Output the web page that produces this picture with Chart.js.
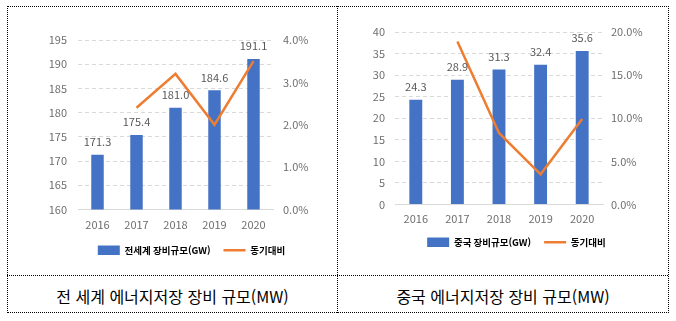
<!DOCTYPE html>
<html lang="ko">
<head>
<meta charset="utf-8">
<script src="https://cdn.jsdelivr.net/npm/chart.js@4/dist/chart.umd.min.js"></script>
<style>
  html, body { margin: 0; padding: 0; background: #fff; }
  #page { position: relative; width: 676px; height: 321px; overflow: hidden; background: #fff; }
  .frame { position: absolute; left: 7px; top: 6px; width: 660px; height: 305px; border: 1px dotted #000; }
  .vline { position: absolute; left: 337px; top: 6px; height: 307px; width: 0; border-left: 1px dotted #000; }
  .hline { position: absolute; left: 7px; top: 275px; width: 661px; height: 0; border-top: 1px dotted #000; }
  .caption { position: absolute; top: 278px; height: 36px; line-height: 36px; text-align: center;
    font-family: "Noto Sans CJK KR", sans-serif; font-size: 16px; color: #000; }
  canvas { position: absolute; }
</style>
</head>
<body>
<div id="page">
  <div class="frame"></div>
  <div class="vline"></div>
  <div class="hline"></div>
  <canvas id="worldChart" width="287" height="258" style="left:48px; top:7px;"></canvas>
  <canvas id="chinaChart" width="293" height="250" style="left:370px; top:7px;"></canvas>
  <div class="caption" style="left:8px; width:329px;">전 세계 에너지저장 장비 규모(MW)</div>
  <div class="caption" style="left:338px; width:330px;">중국 에너지저장 장비 규모(MW)</div>
</div>

<script>
// ================= DATA =================
const years = ["2016", "2017", "2018", "2019", "2020"];

const worldSize = [171.3, 175.4, 181.0, 184.6, 191.1];
const worldYoY = [null, 2.4, 3.2, 2.0, 3.5];

const chinaSize = [24.3, 28.9, 31.3, 32.4, 35.6];
const chinaYoY = [null, 18.9, 8.3, 3.5, 9.9];

// ================= STYLE =================
const BAR_COLOR = "#4472C4";
const LINE_COLOR = "#ED7D31";
const GRID_COLOR = "#d9d9d9";
const TICK_COLOR = "#6e6e6e";

Chart.defaults.font.family = "'Noto Sans CJK KR', sans-serif";
Chart.defaults.animation = false;

// ================= BAR VALUE LABELS =================
const barLabels = {
  id: "barLabels",
  afterDatasetsDraw(chart) {
    const ctx = chart.ctx;
    const meta = chart.getDatasetMeta(0);
    const values = chart.data.datasets[0].data;
    ctx.save();
    ctx.font = "11px 'Noto Sans CJK KR', sans-serif";
    ctx.fillStyle = "#595959";
    ctx.textAlign = "center";
    ctx.textBaseline = "middle";
    meta.data.forEach((bar, i) => {
      ctx.fillText(values[i].toFixed(1), bar.x, bar.y - 13);
    });
    ctx.restore();
  }
};

// ================= BUILD CHART =================
function makeChart(canvasId, opts) {
  const fixWidth = w => scale => { scale.width = w; };

  return new Chart(document.getElementById(canvasId), {
    type: "bar",
    data: {
      labels: years,
      datasets: [
        {
          label: opts.barLabel,
          data: opts.bars,
          backgroundColor: BAR_COLOR,
          borderColor: BAR_COLOR,
          borderWidth: 0,
          barPercentage: opts.barPct,
          categoryPercentage: 1,
          pointStyle: "rect",
          yAxisID: "y",
          order: 1
        },
        {
          type: "line",
          label: "동기대비",
          data: opts.yoy,
          borderColor: LINE_COLOR,
          backgroundColor: LINE_COLOR,
          borderWidth: 2.5,
          pointRadius: 0,
          pointStyle: "line",
          tension: 0,
          yAxisID: "y1",
          order: 0
        }
      ]
    },
    options: {
      responsive: false,
      layout: { padding: { top: opts.padTop, left: 0, right: 0, bottom: 0 } },
      plugins: {
        tooltip: { enabled: false },
        legend: {
          position: "bottom",
          labels: {
            usePointStyle: true,
            pointStyleWidth: 22,
            boxHeight: 10,
            padding: 13,
            color: "#000",
            font: { size: 9.5, weight: "bold" },
            sort: (a, b) => a.datasetIndex - b.datasetIndex
          }
        }
      },
      scales: {
        x: {
          grid: { display: false, drawTicks: false },
          border: { display: true, color: GRID_COLOR, width: 1 },
          ticks: { color: TICK_COLOR, font: { size: 11 }, padding: opts.xPad },
          afterFit: scale => { scale.height = opts.xHeight; }
        },
        y: {
          position: "left",
          min: opts.yMin,
          max: opts.yMax,
          ticks: { stepSize: opts.yStep, color: TICK_COLOR, font: { size: 11 }, padding: opts.yPad },
          grid: { color: GRID_COLOR, lineWidth: 1, drawTicks: false },
          border: { display: false, dash: [4, 3] },
          afterFit: fixWidth(opts.yWidth)
        },
        y1: {
          position: "right",
          min: 0,
          max: opts.y1Max,
          ticks: {
            stepSize: opts.y1Step,
            color: TICK_COLOR,
            font: { size: 11 },
            padding: opts.y1Pad,
            callback: v => v.toFixed(1) + "%"
          },
          grid: { display: false, drawOnChartArea: false, drawTicks: false },
          border: { display: false },
          afterFit: fixWidth(opts.y1Width)
        }
      }
    },
    plugins: [barLabels]
  });
}

// ================= INIT =================
makeChart("worldChart", {
  barLabel: "전세계 장비규모(GW)",
  bars: worldSize,
  yoy: worldYoY,
  barPct: 0.32,
  padTop: 33,
  xHeight: 23,
  xPad: 9,
  yMin: 160, yMax: 195, yStep: 5, yPad: 11, yWidth: 30,
  y1Max: 4, y1Step: 1, y1Pad: 10, y1Width: 62
});

makeChart("chinaChart", {
  barLabel: "중국 장비규모(GW)",
  bars: chinaSize,
  yoy: chinaYoY,
  barPct: 0.31,
  padTop: 25,
  xHeight: 20,
  xPad: 8,
  yMin: 0, yMax: 40, yStep: 5, yPad: 10, yWidth: 25,
  y1Max: 20, y1Step: 5, y1Pad: 8, y1Width: 60
});
</script>
</body>
</html>
